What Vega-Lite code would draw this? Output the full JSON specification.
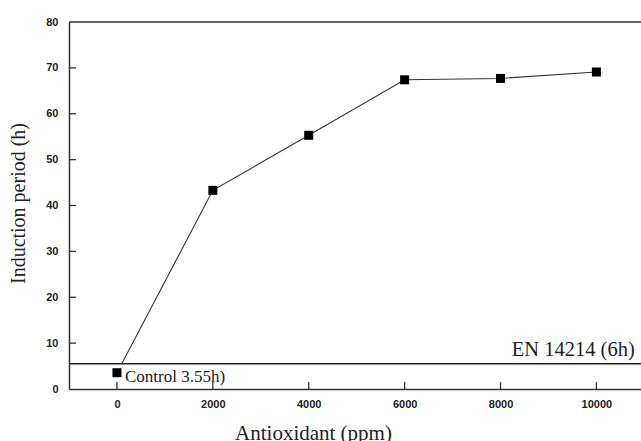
{
  "$schema": "https://vega.github.io/schema/vega-lite/v6.json",
  "autosize": "none",
  "padding": {"left": 69, "top": 22, "right": 0, "bottom": 52},
  "width": 572,
  "height": 367,
  "background": "white",
  "config": {"view": {"stroke": null}},
  "datasets": {
    "points": [
      {"ppm": 0, "hours": 3.55},
      {"ppm": 2000, "hours": 43.3},
      {"ppm": 4000, "hours": 55.3},
      {"ppm": 6000, "hours": 67.4},
      {"ppm": 8000, "hours": 67.7},
      {"ppm": 10000, "hours": 69.1}
    ],
    "line": [
      {"ppm": 100, "hours": 5.5},
      {"ppm": 2000, "hours": 43.3},
      {"ppm": 4000, "hours": 55.3},
      {"ppm": 6000, "hours": 67.4},
      {"ppm": 8000, "hours": 67.7},
      {"ppm": 10000, "hours": 69.1}
    ],
    "xticks": [{"ppm": 0}, {"ppm": 2000}, {"ppm": 4000}, {"ppm": 6000}, {"ppm": 8000}, {"ppm": 10000}],
    "yticks": [{"hours": 10}, {"hours": 20}, {"hours": 30}, {"hours": 40}, {"hours": 50}, {"hours": 60}, {"hours": 70}],
    "limit": [{"hours": 5.5, "ppm": 10800, "label": "EN 14214 (6h)"}],
    "top": [{"hours": 80}],
    "control": [{"ppm": 0, "hours": 3.55, "label": "Control 3.55h)"}]
  },
  "layer": [
    {
      "data": {"name": "top"},
      "mark": {"type": "rule", "color": "#333", "strokeWidth": 1.5},
      "encoding": {"y": {"field": "hours", "type": "quantitative", "scale": {"domain": [0, 80]}}}
    },
    {
      "data": {"name": "limit"},
      "mark": {"type": "rule", "color": "#222", "strokeWidth": 1.3},
      "encoding": {"y": {"field": "hours", "type": "quantitative"}}
    },
    {
      "data": {"name": "xticks"},
      "mark": {"type": "rule", "color": "#333", "strokeWidth": 1.3},
      "encoding": {
        "x": {"field": "ppm", "type": "quantitative"},
        "y": {"datum": 0},
        "y2": {"datum": 1.5}
      }
    },
    {
      "data": {"name": "yticks"},
      "mark": {"type": "rule", "color": "#333", "strokeWidth": 1.3},
      "encoding": {
        "y": {"field": "hours", "type": "quantitative"},
        "x": {"datum": -1000},
        "x2": {"datum": -855}
      }
    },
    {
      "data": {"name": "line"},
      "mark": {"type": "line", "color": "#333", "strokeWidth": 1.1},
      "encoding": {
        "x": {"field": "ppm", "type": "quantitative"},
        "y": {"field": "hours", "type": "quantitative"}
      }
    },
    {
      "data": {"name": "points"},
      "mark": {"type": "point", "shape": "square", "filled": true, "size": 81, "color": "black", "opacity": 1},
      "encoding": {
        "x": {
          "field": "ppm", "type": "quantitative",
          "scale": {"domain": [-1000, 10930], "nice": false, "zero": false},
          "axis": {
            "values": [0, 2000, 4000, 6000, 8000, 10000],
            "format": "d",
            "title": "Antioxidant (ppm)",
            "grid": false,
            "domainColor": "#333", "domainWidth": 1.5,
            "ticks": false,
            "labelPadding": 9,
            "labelFont": "Liberation Sans", "labelFontWeight": "bold", "labelFontSize": 11, "labelColor": "#222",
            "titleFont": "Liberation Serif", "titleFontSize": 21, "titleFontWeight": "normal", "titleColor": "#222",
            "titleX": 244, "titleY": 50, "titleBaseline": "alphabetic", "titleAlign": "center"
          }
        },
        "y": {
          "field": "hours", "type": "quantitative",
          "scale": {"domain": [0, 80], "nice": false},
          "axis": {
            "values": [0, 10, 20, 30, 40, 50, 60, 70, 80],
            "title": "Induction period (h)",
            "grid": false,
            "domainColor": "#333", "domainWidth": 1.5,
            "ticks": false,
            "labelPadding": 11,
            "labelFont": "Liberation Sans", "labelFontWeight": "bold", "labelFontSize": 11, "labelColor": "#222",
            "titleFont": "Liberation Serif", "titleFontSize": 20, "titleFontWeight": "normal", "titleColor": "#222",
            "titleX": -51, "titleY": 181, "titleBaseline": "middle", "titleAlign": "center", "titleAngle": -90
          }
        }
      }
    },
    {
      "data": {"name": "limit"},
      "mark": {"type": "text", "font": "Liberation Serif", "fontSize": 20.5, "align": "right", "baseline": "alphabetic", "dy": -8, "color": "#222"},
      "encoding": {
        "x": {"field": "ppm", "type": "quantitative"},
        "y": {"field": "hours", "type": "quantitative"},
        "text": {"field": "label"}
      }
    },
    {
      "data": {"name": "control"},
      "mark": {"type": "text", "font": "Liberation Serif", "fontSize": 17, "align": "left", "baseline": "alphabetic", "dx": 8, "dy": 9, "color": "#222"},
      "encoding": {
        "x": {"field": "ppm", "type": "quantitative"},
        "y": {"field": "hours", "type": "quantitative"},
        "text": {"field": "label"}
      }
    }
  ]
}
